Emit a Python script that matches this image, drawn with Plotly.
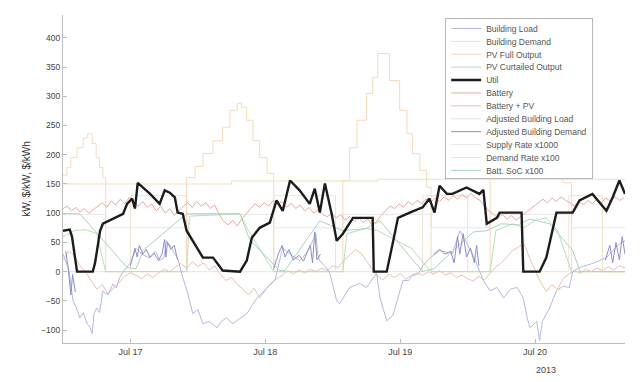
import pandas as pd
import plotly.graph_objects as go

BASE = pd.Timestamp("2013-07-16 12:00")

# ---------------- data (hours after Jul 16 12:00, values) ----------------
util_h = [0, 1.2, 1.6, 2.5, 5.3, 5.7, 6.0, 6.6, 7.1, 8.9, 10.7, 11.4, 12.3, 12.8, 13.3, 14.2, 15.5, 17.2, 18.1,
          19.0, 19.9, 20.4, 21.3, 22.0, 23.1, 24.9, 26.7, 28.4, 31.5, 32.7, 33.6, 35.0, 36.8, 38.0, 39.1, 40.4,
          42.1, 43.9, 44.8, 45.7, 46.6, 47.8, 48.7, 49.8, 51.6, 55.1, 55.3, 57.6, 58.7, 59.6, 61.7, 64.0, 65.2,
          66.1, 67.0, 68.3, 69.3, 71.8, 74.1, 74.8, 75.4, 77.2, 77.7, 81.6, 81.9, 84.8, 86.0, 87.1, 87.8, 90.7,
          91.9, 94.2, 96.7, 97.8, 99.0, 100]
util_v = [70, 72, 60, 0, 0, 15, 33, 70, 82, 91, 99, 116, 125, 108, 152, 144, 133, 116, 139,
          135, 127, 101, 99, 70, 53, 24, 24, 2, 0, 19, 58, 75, 84, 122, 104, 156,
          139, 116, 142, 101, 151, 99, 53, 65, 92, 92, 0, 0, 50, 92, 101, 110, 125,
          101, 147, 133, 133, 144, 133, 140, 82, 92, 101, 101, 0, 0, 24, 70, 101, 101,
          122, 133, 104, 127, 156, 133]

load_h = [0, 1, 1.8, 2.5, 3, 3.6, 4.3, 4.8, 5.2, 5.5, 6, 6.5, 7.1, 8, 8.9, 9.5, 10.1, 10.7, 12, 13, 14, 15.3,
          16.5, 17.2, 18, 18.4, 19.3, 20.5, 21.3, 22, 23.1, 24, 24.9, 26, 27.4, 28.2, 29.1, 30.2, 31.5, 32.7,
          33.5, 34.5, 35.8, 36.5, 37.7, 38.6, 39.1, 40.4, 42.1, 43.2, 43.9, 45, 45.3, 45.7, 47.4, 48.7, 49.2,
          51, 52.8, 54, 55.8, 56.4, 57.6, 58.7, 59.4, 60.5, 61.5, 62, 63.3, 64, 65.5, 67, 69.3, 70.6, 72.9,
          74.8, 76, 77.2, 78.4, 79.6, 80.8, 81.9, 82.6, 83.1, 84.3, 84.8, 85.3, 86.6, 87.8, 88.9, 90.1, 90.7,
          91.9, 94.2, 96.7, 97.8, 99, 100]
load_v = [30, 5, -50, -65, -79, -70, -89, -95, -106, -72, -62, -70, -33, -40, -21, -28, -10, 0, 15, 40, 30, 24,
          35, 19, 25, 53, 41, 20, -10, -30, -72, -65, -89, -85, -96, -85, -79, -89, -80, -72,
          -60, -45, -33, -25, -15, 20, 41, 30, 19, 30, 41, 65, 30, 19, 0, -50, -55,
          -27, -20, -27, -3, -45, -84, -75, -50, -15, -15, -8, -3, 10, 25, 36, 31, 70, 30,
          -15, -33, -27, -45, -30, -27, -45, -79, -96, -85, -118, -85, -62, -33, -25, -27, 0,
          7, 14, 24, 36, 48, 53]

bdem_h = [0, 30, 56, 100]
bdem_v = [150, 155, 158, 158]

pvf_h = [0, 0.7, 1.4, 2.5, 3.6, 4.4, 5.2, 5.9, 6.5, 7.1, 7.6,
         22, 23.5, 24.9, 26.7, 28.4, 29.7, 31, 31.8, 32.7, 33.8, 35, 36.3, 37.5,
         49.8, 51, 52.3, 54, 55.1, 56, 58.1, 59.9, 61.2, 62.2, 63.5, 64.7, 65.5,
         76, 77, 78, 79, 80, 81, 82, 83, 84, 85, 86, 87, 88, 89, 90.5, 100]
pvf_v = [165, 178, 195, 212, 229, 236, 219, 195, 178, 161, 0,
         161, 180, 202, 224, 247, 276, 288, 281, 259, 224, 195, 168, 0,
         156, 212, 259, 305, 332, 373, 327, 276, 236, 202, 173, 144, 0,
         160, 190, 215, 240, 265, 290, 300, 300, 280, 250, 220, 195, 170, 152, 0, 0]

pvc_h = [0, 2, 4, 6, 7.6, 22, 22.5, 31.5, 33, 37.5, 49.8, 50.5, 54, 56, 58, 62, 65.5, 76, 77, 80, 82, 84,
         86, 88, 90.5, 100]
pvc_v = [60, 70, 72, 65, 0, 0, 95, 99, 70, 0, 0, 65, 74, 70, 60, 40, 0, 0, 70, 82, 75, 88,
         92, 70, 0, 0]

batt_h = [0, 0.8, 1.5, 2.3, 3, 3.8, 4.6, 5.4, 6.2, 7, 7.8, 8.6, 9.4, 10.2, 11, 11.8, 12.6, 13.4, 14.2, 15,
          15.8, 16.6, 17.4, 18.2, 19, 19.8, 20.6, 21.4, 22.2, 23, 23.8, 24.6, 25.4, 26.2, 27, 27.8, 28.6,
          29.4, 30.2, 31, 31.8, 32.6, 33.4, 34.2, 35, 35.8, 36.6, 37.4, 38.2, 39, 39.8, 40.6, 41.4, 42.2,
          43, 43.8, 44.6, 45.4, 46.2, 47, 47.8, 48.6, 49.4, 50.2, 51, 51.8, 52.6, 53.4, 54.2, 55, 55.8,
          56.6, 57.4, 58.2, 59, 59.8, 60.6, 61.4, 62.2, 63, 63.8, 64.6, 65.4, 66.2, 67, 67.8, 68.6, 69.4,
          70.2, 71, 71.8, 72.6, 73.4, 74.2, 75, 75.8, 76.6, 77.4, 78.2, 79, 79.8, 80.6, 81.4, 82.2, 83,
          83.8, 84.6, 85.4, 86.2, 87, 87.8, 88.6, 89.4, 90.2, 91, 91.8, 92.6, 93.4, 94.2, 95, 95.8, 96.6,
          97.4, 98.2, 99, 99.8]
batt_v = [108, 112, 104, 110, 102, 108, 100, 106, 112, 118, 110, 121, 114, 124, 116, 127, 118, 112, 120, 110,
          116, 104, 112, 100, 108, 96, 104, 112, 118, 110, 120, 112, 118, 108, 114, 98, 86,
          80, 88, 78, 90, 100, 108, 116, 110, 118, 112, 122, 115, 120, 110, 117, 108, 114,
          104, 110, 100, 106, 98, 94, 100, 92, 98, 88, 94, 86, 92, 84, 90, 80, 86,
          96, 104, 112, 108, 116, 110, 120, 114, 122, 116, 124, 118, 126, 120, 128, 122, 130,
          124, 132, 126, 134, 126, 122, 112, 104, 98, 92, 98, 90, 96, 88, 94, 100, 106,
          112, 118, 124, 118, 126, 120, 128, 122, 118, 112, 120, 114, 122, 116, 124, 118, 126,
          120, 128, 122, 126]

bpv_h = list(range(0, 101))
bpv_v = [20, 35, 28, 10, 0, -15, -30, -22, -38, -28, -18, -8, -2, -6, -12, -4, -10, -2, 4, 0,
         8, 14, 6, 17, 9, 15, 3, 10, -5, -15, -10, -22, -30, -40, -28, -45, -32, -20, -12, -6,
         2, -4, 3, -2, 4, 0, 6, 2, 10, 7, 20, 28, 38, 32, 18, 6, -8, -14, -4, -10,
         -3, -13, -6, -2, -6, 0, -4, 2, -6, -2, -10, -6, -12, -16, -8, -14, -2, 8, 15, 26,
         36, 42, 48, 24, 2, -18, -34, -22, -30, -12, -4, 2, -3, 4, 0, 6, 2, 8, 3, 10, 6]

adem_segments = [
    ([0.5, 1.0, 1.4, 1.7, 2.2], [35, 0, -40, -5, -35]),
    ([12, 12.8, 13.2, 13.6, 14.2, 14.8, 15.5, 16.2, 17, 17.6, 18.1, 18.3, 18.6, 19.2, 19.8, 20.4],
     [10, 40, 25, 45, 30, 38, 24, 32, 19, 30, 55, 25, 50, 38, 45, 20]),
    ([37.5, 38.3, 39, 39.5, 40.2, 41, 42, 42.8, 43.5, 44, 44.4, 44.8, 45.2, 45.8],
     [5, 30, 45, 25, 38, 20, 28, 18, 35, 45, 15, 68, 20, 30]),
    ([66, 67, 68, 69, 69.6, 70.2, 70.6, 71.2, 71.8, 72.5, 73.2, 73.6, 74],
     [30, 38, 30, 35, 15, 60, 30, 65, 25, 40, 15, 45, 10]),
    ([96.5, 97.3, 97.8, 98.4, 99, 99.5, 100], [20, 45, 15, 50, 20, 60, 30]),
]

supply_h = [0, 7.6, 22, 37.5, 49.8, 65.5, 76, 90.5, 100]
supply_v = [98, 75, 98, 75, 98, 75, 98, 75, 75]

drate_h = [0, 12, 22, 37.5, 48.5, 64, 72, 90, 96, 100]
drate_v = [0, 130, 0, 130, 0, 130, 0, 130, 0, 0]

soc_h = [0, 3, 11.4, 13, 14.2, 22, 31.5, 33.2, 38.5, 39.5, 45.7, 49.8, 52, 54, 56.4, 64, 66, 73, 75.4, 78,
         81, 83, 86.6, 90.7, 92, 100]
soc_v = [99, 99, 7, 5, 36, 99, 99, 55, 2, 2, 87, 70, 72, 74, 87, 0, 5, 68, 70, 82,
         80, 90, 82, 36, 0, 0]

tick_days = ["2013-07-17", "2013-07-18", "2013-07-19", "2013-07-20"]
tick_text = ["Jul 17", "Jul 18", "Jul 19", "Jul 20"]
y_ticks = [-100, -50, 0, 50, 100, 150, 200, 250, 300, 350, 400]


def t(hours):
    return [BASE + pd.Timedelta(hours=h) for h in hours]


adem_x, adem_y = [], []
for hs, vs in adem_segments:
    adem_x += t(hs) + [BASE + pd.Timedelta(hours=hs[-1] + 0.05)]
    adem_y += vs + [None]

fig = go.Figure()


def add(name, hours, vals, color, width=1.0, rank=1, shape="linear", x=None):
    fig.add_trace(go.Scatter(
        x=x if x is not None else t(hours), y=vals, name=name, mode="lines",
        line=dict(color=color, width=width, shape=shape), legendrank=rank,
        connectgaps=False))


# drawing order (bottom -> top); legendrank keeps original legend order
add("Supply Rate x1000", supply_h, supply_v, "#e6e6ec", 1, 10, "hv")
add("Demand Rate x100", drate_h, drate_v, "#f2e3d0", 1, 11, "hv")
add("Building Demand", bdem_h, bdem_v, "#f2dfb8", 1, 2, "hv")
add("PV Full Output", pvf_h, pvf_v, "#f5dbbb", 1, 3, "hv")
add("PV Curtailed Output", pvc_h, pvc_v, "#b9dfb7", 1, 4)
add("Batt. SoC x100", soc_h, soc_v, "#abd3bd", 1, 12)
add("Battery + PV", bpv_h, bpv_v, "#ecbfb2", 1, 7)
add("Building Load", load_h, load_v, "#b4b9e0", 1, 1)
add("Battery", batt_h, batt_v, "#e8a9a1", 1, 6)
add("Adjusted Building Load", util_h, util_v, "#dcdfea", 1, 8)
add("Adjusted Building Demand", None, adem_y, "#8a8ecb", 1, 9, x=adem_x)
add("Util", util_h, util_v, "#1c1c1c", 2.4, 5)

font = "Liberation Sans, Arial, sans-serif"

# page body has an 8px margin: figure sized to fill the rest of the 640x382 window
fig.update_layout(
    width=632, height=374,
    margin=dict(l=55, r=15, t=7, b=39, autoexpand=False),
    paper_bgcolor="white", plot_bgcolor="white",
    font=dict(family=font, size=9, color="#444"),
    showlegend=True,
    legend=dict(x=0.68, y=0.991, xanchor="left", yanchor="top",
                bgcolor="white", bordercolor="#b8b8b8", borderwidth=1,
                font=dict(family=font, size=8.5, color="#555"),
                itemwidth=30, tracegroupgap=0),
    xaxis=dict(type="date", range=[BASE, BASE + pd.Timedelta(hours=100)],
               tickvals=tick_days, ticktext=tick_text, automargin=False,
               showgrid=False, zeroline=False, showline=True, linecolor="#bdbdbd", linewidth=1,
               ticks="inside", ticklen=4, tickcolor="#bdbdbd",
               tickfont=dict(size=9, color="#444")),
    yaxis=dict(range=[-122, 439], tickvals=y_ticks, automargin=False,
               showgrid=False, zeroline=False, showline=True, linecolor="#bdbdbd", linewidth=1,
               ticks="inside", ticklen=4, tickcolor="#bdbdbd",
               tickfont=dict(size=8.5, color="#444"),
               title=dict(text="kW, $/kW, $/kWh", font=dict(size=10, color="#333"), standoff=8)),
)

fig.add_annotation(x="2013-07-20 02:00", y=0, xref="x", yref="paper", yanchor="top",
                   yshift=-20, text="2013", showarrow=False,
                   font=dict(family=font, size=9, color="#444"))

post = """
var gd = document.getElementById('{plot_id}');
function squeeze(){
  var items = gd.querySelectorAll('.legend .traces');
  var step = 12.9, first = 10.5;
  items.forEach(function(el, i){
    var tr = el.getAttribute('transform') || '';
    var m = /translate\\(\\s*([-\\d.e]+)[ ,]+([-\\d.e]+)\\s*\\)/.exec(tr);
    var x = m ? parseFloat(m[1]) : 0;
    el.setAttribute('transform', 'translate(' + x + ',' + (first + i*step) + ')');
  });
  var bg = gd.querySelector('.legend .bg');
  if(bg){ bg.setAttribute('height', first + (items.length-1)*step + 8); }
}
squeeze();
"""

fig.write_html("out.html", post_script=post)
